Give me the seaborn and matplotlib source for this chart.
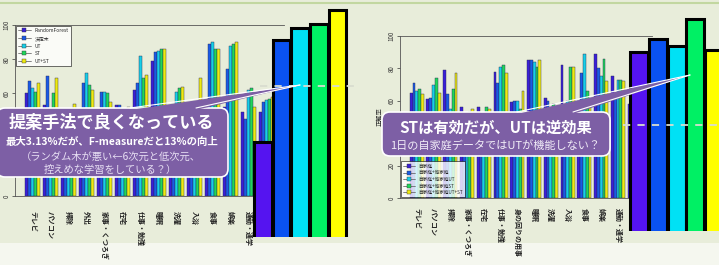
# plot.py
# Slide: two grouped bar charts + magnified "平均" group + purple callouts

import numpy as np
import pandas as pd
import seaborn as sns
import matplotlib.pyplot as plt
from matplotlib.patches import FancyBboxPatch, Polygon, Rectangle
from matplotlib.lines import Line2D

# ===============================
# Data
# ===============================
left_cats = ["テレビ", "パソコン", "掃除", "外出", "家事・くつろぎ", "在宅", "仕事・勉強",
             "睡眠", "洗濯", "入浴", "食事", "娯楽", "通勤・通学", "平均"]
left_methods = ["RandomForest", "決定木", "UT", "ST", "UT+ST"]
rf_vals   = [60, 53, 46, 50, 50, 53, 62, 79, 48, 45, 52, 52, 49, 49]
tree_vals = [67, 70, 44, 66, 61, 53, 66, 84, 50, 47, 89, 74, 45, 55]
ut_vals   = [63, 47, 42, 72, 61, 47, 82, 85, 61, 44, 90, 88, 62, 56]
st_vals   = [61, 60, 45, 65, 60, 46, 69, 86, 63, 46, 86, 89, 63, 57]
utst_vals = [66, 69, 54, 62, 55, 52, 71, 86, 64, 69, 86, 90, 52, 58]

right_cats = ["テレビ", "パソコン", "掃除", "家事・くつろぎ", "在宅", "仕事・勉強", "身の回りの用事",
              "睡眠", "洗濯", "入浴", "食事", "娯楽", "通勤・通学", "平均"]
right_methods = ["自家庭", "自家庭+他家庭", "自家庭+他家庭UT", "自家庭+他家庭ST", "自家庭+他家庭UT+ST"]
own_vals      = [65, 61, 79, 56, 56, 78, 59, 85, 62, 82, 60, 89, 75, 58]
other_vals    = [71, 62, 64, 51, 52, 71, 60, 85, 60, 55, 77, 80, 63, 60]
other_ut_vals = [66, 70, 55, 52, 50, 81, 60, 84, 52, 60, 89, 75, 73, 59]
other_st_vals = [67, 74, 67, 53, 56, 82, 55, 81, 58, 81, 66, 86, 73, 62]
other_utst_vals = [64, 65, 77, 55, 55, 77, 66, 85, 50, 81, 58, 72, 72, 60]

# magnified last group (平均)
left_zoom_vals  = [64.1, 68.5, 69.0, 69.2, 69.8]
right_zoom_vals = [67.9, 68.5, 68.2, 69.4, 68.0]
left_ref_line = 66.5
right_ref_line = 64.7

y_ticks = [0, 20, 40, 60, 80, 100]
left_tick_labels = ["0", "", "", "60", "80", "100"]   # 20/40 sit under the callout
right_tick_labels = ["0", "20", "40", "60", "80", "100"]

main_colors = ["#3a1fd8", "#1a5ae6", "#16cfe8", "#1fd65a", "#eeea10"]
zoom_colors = ["#5514f0", "#0a52f2", "#00e1f5", "#00f064", "#ffff00"]

# ===============================
# Setup
# ===============================
sns.set_theme(style="white")
plt.rcParams['font.family'] = ['Noto Sans CJK JP', 'DejaVu Sans']

W, H = 719, 265
BG = "#e8edda"
PURPLE = "#7d5fa5"

fig = plt.figure(figsize=(W / 100, H / 100), dpi=100, facecolor=BG)


def rect(x0, y0, x1, y1):
    # pixel box (origin top-left) -> figure fraction rect
    return [x0 / W, 1 - y1 / H, (x1 - x0) / W, (y1 - y0) / H]


def P(x, y):
    # pixel -> inches (for dpi_scale_trans)
    return (x / 100, (H - y) / 100)


# slide decorations
fig.add_artist(Rectangle((0, 0), 1, 22 / H, transform=fig.transFigure,
                         fc="#f5f7ef", ec="none", zorder=-1))
fig.add_artist(Line2D([0, 1], [1 - 3 / H, 1 - 3 / H], transform=fig.transFigure,
                      color="#c2d7a0", lw=1.5, zorder=-1))


def main_chart(box, cats, methods, series, ylabel, tick_labels, pad,
               legend_loc, fs_leg, lsp):
    ax = fig.add_axes(box)
    ax.set_facecolor("none")
    df = pd.DataFrame({"cat": cats})
    for name, vals in zip(methods, series):
        df[name] = vals
    long = df.melt(id_vars="cat", var_name="method", value_name="val")
    sns.barplot(data=long, x="cat", y="val", hue="method", order=cats,
                hue_order=methods, palette=main_colors, saturation=1,
                width=0.84, edgecolor="#2a2a50", linewidth=0.3,
                errorbar=None, legend=False, ax=ax)
    ax.set_xlim(-1, len(cats))
    ax.set_ylim(0, 100)
    ax.set_yticks(y_ticks)
    ax.set_yticklabels(tick_labels)
    ax.set_xticks(range(len(cats)))
    ax.set_xticklabels(cats, rotation=-90, va="top", ha="center",
                       fontsize=5, fontweight="bold", color="#222222")
    ax.tick_params(axis="x", length=0, pad=pad)
    ax.tick_params(axis="y", labelsize=4.5, labelrotation=90, length=2,
                   width=0.5, pad=1, colors="#333333", left=True)
    for lab in ax.get_yticklabels():
        lab.set_va("center")
    ax.set_xlabel("")
    ax.set_ylabel(ylabel, fontsize=4.5, labelpad=3)
    for s in ["left", "top", "bottom"]:
        ax.spines[s].set_color("#555555")
        ax.spines[s].set_linewidth(0.6)
    ax.spines["right"].set_visible(False)
    handles = [Line2D([0], [0], color="#555555", lw=0.5, marker="s",
                      markersize=3, markerfacecolor=c, markeredgecolor="#333333",
                      markeredgewidth=0.3)
               for c in main_colors]
    leg = ax.legend(handles, methods, loc=legend_loc, fontsize=fs_leg,
                    frameon=True, fancybox=False, handlelength=2.6,
                    labelspacing=lsp, borderpad=0.5, borderaxespad=0.15,
                    numpoints=1)
    leg.get_frame().set_edgecolor("black")
    leg.get_frame().set_linewidth(0.5)
    leg.get_frame().set_facecolor("white")
    return ax


ax_l = main_chart(rect(15, 25, 284, 196), left_cats, left_methods,
                  [rf_vals, tree_vals, ut_vals, st_vals, utst_vals],
                  "", left_tick_labels, 11, "upper left", 3.5, 0.55)
ax_r = main_chart(rect(400, 36, 651.5, 198), right_cats, right_methods,
                  [own_vals, other_vals, other_ut_vals, other_st_vals, other_utst_vals],
                  "正解率", right_tick_labels, 7, "lower left", 3.3, 0.35)


def zoom_chart(box, vals, xlim, ref, xmin):
    axi = fig.add_axes(box)
    axi.set_facecolor("none")
    sns.barplot(x=list(range(len(vals))), y=vals, hue=list(range(len(vals))),
                palette=zoom_colors, saturation=1, width=0.95,
                edgecolor="black", linewidth=2.2, legend=False, ax=axi)
    axi.set_ylim(60, 70)
    axi.set_xlim(*xlim)
    axi.axhline(ref, xmin=xmin, xmax=1, color="#d9ddd0", lw=1.3,
                dashes=(4, 4), zorder=5)
    axi.axis("off")
    return axi


zoom_chart(rect(250, 5, 356, 237), left_zoom_vals, (-0.7, 5.0), left_ref_line, 0.09)
zoom_chart(rect(623, 5, 733, 231), right_zoom_vals, (-0.85, 5.0), right_ref_line, 0.0)

# ===============================
# Callouts
# ===============================
T = fig.dpi_scale_trans


def callout(x0, y0, x1, y1, base_a, base_b, tip):
    fig.add_artist(FancyBboxPatch(P(x0, y1), (x1 - x0) / 100, (y1 - y0) / 100,
                                  boxstyle="round,pad=0,rounding_size=0.08",
                                  fc=PURPLE, ec="white", lw=1.2, transform=T, zorder=2))
    fig.add_artist(Polygon([P(base_a, y0 + 2), P(base_b, y0 + 2), P(*tip)],
                           closed=True, fc=PURPLE, ec="none", transform=T, zorder=3))
    for bx in (base_a, base_b):
        a, b = P(bx, y0), P(*tip)
        fig.add_artist(Line2D([a[0], b[0]], [a[1], b[1]], color="white",
                              lw=0.8, transform=T, zorder=3))


def ftext(x, y, s, size, color="white", weight="normal"):
    fig.text(x / W, 1 - y / H, s, fontsize=size, color=color, weight=weight,
             ha="center", va="center", zorder=4)


callout(-3, 108, 228, 177, 130, 196, (300, 85))
ftext(111, 123, "提案手法で良くなっている", 12.3, weight="bold")
ftext(112, 142, "最大3.13%だが、F-measureだと13%の向上", 7.5, weight="bold")
ftext(111, 157, "（ランダム木が悪い←6次元と低次元、", 7.4, color="#e8e0f4")
ftext(110, 170, "控えめな学習をしている？）", 7.4, color="#e8e0f4")

callout(382, 112, 610, 156, 517, 573, (690, 75))
ftext(496, 128, "STは有効だが、UTは逆効果", 11, weight="bold")
ftext(495, 145, "1日の自家庭データではUTが機能しない？", 8, color="#f2eef8")

plt.savefig("out.png", dpi=100, facecolor=BG)
